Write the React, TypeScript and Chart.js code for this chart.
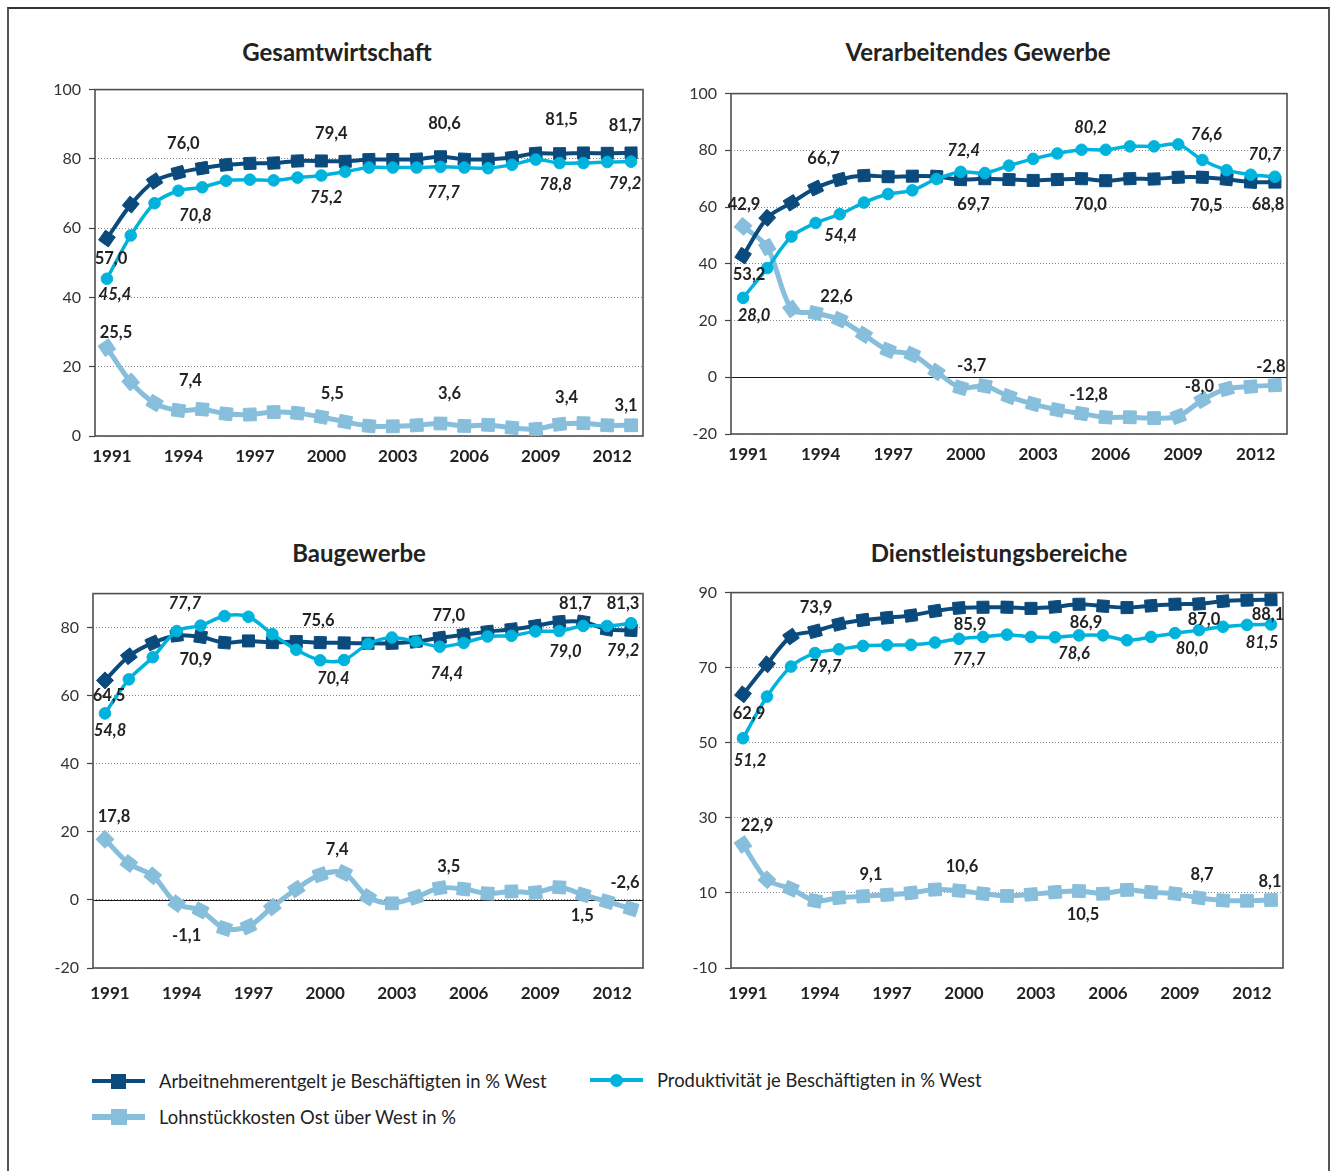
import { useEffect, useRef } from "react";
import { Chart, registerables } from "chart.js";

Chart.register(...registerables);

const FONT = "Lato, 'Noto Sans', sans-serif";
const NAVY = "#0b4a7c";
const CYAN = "#00b3dc";
const LIGHT = "#86bedb";
const TEXT = "#222222";

// Years on the category axis
const years = [
  "1991", "1992", "1993", "1994", "1995", "1996", "1997", "1998", "1999", "2000", "2001", "2002",
  "2003", "2004", "2005", "2006", "2007", "2008", "2009", "2010", "2011", "2012", "2013",
];

const seriesNames = [
  "Arbeitnehmerentgelt je Beschäftigten in % West",
  "Produktivität je Beschäftigten in % West",
  "Lohnstückkosten Ost über West in %",
];

// Gesamtwirtschaft
const gesamtEntgelt = [57.0, 66.8, 73.6, 76.0, 77.3, 78.3, 78.7, 78.8, 79.4, 79.4, 79.3, 79.8, 79.8, 79.9, 80.6, 79.9, 79.9, 80.4, 81.6, 81.5, 81.7, 81.6, 81.7];
const gesamtProd = [45.4, 57.9, 67.2, 70.8, 71.8, 73.7, 74.0, 73.8, 74.6, 75.2, 76.3, 77.5, 77.5, 77.5, 77.7, 77.5, 77.3, 78.3, 79.8, 78.8, 78.8, 79.1, 79.2];
const gesamtLohn = [25.5, 15.6, 9.5, 7.4, 7.7, 6.4, 6.2, 6.9, 6.6, 5.5, 4.1, 2.9, 2.8, 3.1, 3.6, 2.9, 3.2, 2.4, 2.0, 3.4, 3.7, 3.1, 3.1];

// Verarbeitendes Gewerbe
const verarbEntgelt = [42.9, 56.2, 61.5, 66.7, 69.7, 71.1, 70.7, 70.9, 70.8, 69.7, 70.0, 69.7, 69.4, 69.7, 70.0, 69.3, 70.0, 69.9, 70.5, 70.5, 69.8, 68.8, 68.8];
const verarbProd = [28.0, 38.5, 49.6, 54.4, 57.5, 61.6, 64.6, 65.9, 69.9, 72.4, 72.0, 74.6, 77.0, 78.9, 80.2, 80.2, 81.4, 81.4, 82.1, 76.6, 73.0, 71.4, 70.7];
const verarbLohn = [53.2, 45.9, 24.1, 22.6, 20.3, 15.0, 9.5, 8.0, 1.9, -3.7, -3.1, -6.8, -9.4, -11.5, -12.8, -14.1, -14.1, -14.4, -13.8, -8.0, -4.1, -3.3, -2.8];

// Baugewerbe
const bauEntgelt = [64.5, 71.6, 75.5, 77.7, 77.3, 75.6, 76.1, 75.6, 75.9, 75.6, 75.5, 75.4, 75.4, 75.9, 77.0, 77.9, 78.8, 79.5, 80.5, 81.7, 81.7, 79.5, 79.2];
const bauProd = [54.8, 64.8, 71.3, 79.0, 80.6, 83.4, 83.2, 78.1, 73.5, 70.4, 70.5, 75.2, 77.1, 75.9, 74.4, 75.5, 77.4, 77.6, 78.9, 79.0, 80.5, 80.5, 81.3];
const bauLohn = [17.8, 10.7, 7.1, -1.1, -3.1, -8.4, -7.8, -2.1, 3.2, 7.4, 7.9, 0.8, -1.0, 0.8, 3.5, 3.2, 1.9, 2.5, 2.2, 3.7, 1.5, -0.5, -2.6];

// Dienstleistungsbereiche
const dienstEntgelt = [62.9, 70.9, 78.3, 79.7, 81.6, 82.7, 83.3, 83.9, 85.1, 85.9, 86.1, 86.1, 85.8, 86.2, 86.9, 86.4, 86.0, 86.5, 86.9, 87.0, 87.7, 88.0, 88.1];
const dienstProd = [51.2, 62.3, 70.3, 73.9, 74.9, 75.8, 76.0, 76.1, 76.7, 77.7, 78.2, 78.8, 78.2, 78.1, 78.6, 78.6, 77.3, 78.2, 79.2, 80.0, 80.9, 81.4, 81.5];
const dienstLohn = [22.9, 13.5, 11.1, 7.9, 8.7, 9.1, 9.5, 10.0, 10.9, 10.6, 9.8, 9.2, 9.6, 10.2, 10.5, 9.8, 10.8, 10.2, 9.8, 8.7, 8.0, 7.9, 8.1];

// Value labels: [series (0 Entgelt, 1 Produktivität, 2 Lohnstückkosten), year index, dx, dy, italic, fixed text]
type LabelSpec = [number, number, number, number, boolean, string?];

const gesamtLabels: LabelSpec[] = [
  [0, 0, 4, 20, false], [1, 0, 8, 16, true], [2, 0, 9, -15, false],
  [0, 3, 5, -29, false], [1, 3, 17, 25, true], [2, 3, 12, -30, false],
  [0, 9, 10, -27, false], [1, 9, 5, 22, true], [2, 9, 11, -23, false],
  [0, 14, 4, -33, false], [1, 14, 3, 26, true], [2, 14, 9, -30, false],
  [0, 19, 2, -34, false], [1, 19, -4, 22, true], [2, 19, 7, -27, false],
  [0, 22, -6, -27, false], [1, 22, -6, 22, true], [2, 22, -5, -20, false],
];

const verarbLabels: LabelSpec[] = [
  [0, 0, 1, -51, false], [2, 0, 6, 48, false], [1, 0, 11, 18, true],
  [0, 3, 8, -29, false], [1, 3, 25, 13, true], [2, 3, 21, -16, false],
  [1, 9, 3, -21, true], [0, 9, 13, 25, false], [2, 9, 11, -22, false],
  [1, 14, 9, -22, true], [0, 14, 9, 26, false], [2, 14, 7, -19, false],
  [1, 19, 4, -25, true], [0, 19, 4, 28, false], [2, 19, -3, -13, false],
  [1, 22, -10, -22, true], [0, 22, -7, 23, false], [2, 22, -4, -19, false],
];

const bauLabels: LabelSpec[] = [
  [0, 0, 4, 15, false], [1, 0, 5, 17, true], [2, 0, 9, -23, false],
  [0, 3, 8, -32, true], [0, 3, 19, 24, false, "70,9"], [2, 3, 10, 32, false],
  [0, 9, -2, -22, false], [1, 9, 13, 18, true], [2, 9, 17, -25, false],
  [0, 14, 9, -22, false], [1, 14, 7, 27, true], [2, 14, 9, -21, false],
  [0, 19, 16, -18, false], [1, 19, 6, 21, true], [2, 20, -1, 21, false],
  [1, 22, -8, -20, false], [0, 22, -8, 20, true], [2, 22, -6, -26, false],
];

const dienstLabels: LabelSpec[] = [
  [0, 0, 6, 19, false], [1, 0, 7, 22, true], [2, 0, 14, -19, false],
  [1, 3, 1, -45, false], [0, 3, 10, 35, true], [2, 5, 8, -22, false],
  [0, 9, 11, 17, false], [1, 9, 10, 21, true], [2, 9, 3, -24, false],
  [0, 14, 7, 18, false], [1, 14, -5, 18, true], [2, 14, 4, 24, false],
  [0, 19, 5, 16, false], [1, 19, -7, 19, true], [2, 19, 3, -23, false],
  [0, 22, -3, 15, false], [1, 22, -9, 18, true], [2, 22, -1, -18, false],
];

type PanelDef = {
  title: string;
  entgelt: number[];
  prod: number[];
  lohn: number[];
  labels: LabelSpec[];
  min: number;
  max: number;
  hideTicks: number[];
  zeroLine: boolean;
  box: { l: number; t: number; r: number; b: number };
  titleX: number;
  titleY: number;
  xPad: number;
};

const panels: PanelDef[] = [
  { title: "Gesamtwirtschaft", entgelt: gesamtEntgelt, prod: gesamtProd, lohn: gesamtLohn, labels: gesamtLabels,
    min: 0, max: 100, hideTicks: [], zeroLine: false, box: { l: 95, t: 87, r: 643, b: 436 }, titleX: 337, titleY: 52, xPad: 10 },
  { title: "Verarbeitendes Gewerbe", entgelt: verarbEntgelt, prod: verarbProd, lohn: verarbLohn, labels: verarbLabels,
    min: -20, max: 100, hideTicks: [], zeroLine: true, box: { l: 731, t: 91, r: 1287, b: 434 }, titleX: 978, titleY: 52, xPad: 10 },
  { title: "Baugewerbe", entgelt: bauEntgelt, prod: bauProd, lohn: bauLohn, labels: bauLabels,
    min: -20, max: 90, hideTicks: [90], zeroLine: true, box: { l: 93, t: 591, r: 643, b: 968 }, titleX: 359, titleY: 553, xPad: 15 },
  { title: "Dienstleistungsbereiche", entgelt: dienstEntgelt, prod: dienstProd, lohn: dienstLohn, labels: dienstLabels,
    min: -10, max: 90, hideTicks: [], zeroLine: false, box: { l: 731, t: 590, r: 1283, b: 968 }, titleX: 999, titleY: 553, xPad: 15 },
];

const fmt = (v: number) => v.toFixed(1).replace(".", ",");

// Markers turn with the line, like the squares on the printed chart
const alongLine = (ctx: any) => {
  const chart = ctx.chart;
  const xs = chart.scales?.x;
  const ys = chart.scales?.y;
  const i = ctx.dataIndex;
  if (!xs || !ys || i === undefined || !xs.width) return 0;
  const data = ctx.dataset.data as number[];
  const i0 = Math.max(0, i - 1);
  const i1 = Math.min(data.length - 1, i + 1);
  const dx = xs.getPixelForValue(i1) - xs.getPixelForValue(i0);
  const dy = ys.getPixelForValue(data[i1]) - ys.getPixelForValue(data[i0]);
  return (Math.atan2(dy, dx) * 180) / Math.PI;
};

const makeFramePlugin = (zeroLine: boolean) => ({
  id: "frame",
  beforeDatasetsDraw(chart: any) {
    const { ctx, chartArea: a, scales } = chart;
    const y = scales.y;
    ctx.save();
    if (zeroLine) {
      const yz = Math.round(y.getPixelForValue(0)) + 0.5;
      ctx.strokeStyle = "#1a1a1a";
      ctx.lineWidth = 1.2;
      ctx.beginPath();
      ctx.moveTo(a.left, yz);
      ctx.lineTo(a.right, yz);
      ctx.stroke();
    }
    ctx.strokeStyle = "#4f4f4f";
    ctx.lineWidth = 1.6;
    ctx.strokeRect(a.left, a.top, a.right - a.left, a.bottom - a.top);
    ctx.restore();
  },
});

const makeLabelPlugin = (specs: LabelSpec[]) => ({
  id: "valueLabels",
  afterDatasetsDraw(chart: any) {
    const { ctx } = chart;
    ctx.save();
    ctx.fillStyle = TEXT;
    ctx.textAlign = "center";
    ctx.textBaseline = "middle";
    for (const [s, i, dx, dy, italic, fixed] of specs) {
      const pt = chart.getDatasetMeta(s).data[i];
      if (!pt) continue;
      const v = chart.data.datasets[s].data[i] as number;
      ctx.font = `${italic ? "italic " : ""}bold 16.5px ${FONT}`;
      ctx.fillText(fixed ?? fmt(v), pt.x + dx, pt.y + dy);
    }
    ctx.restore();
  },
});

const PAD_L = 70;
const PAD_T = 15;
const PAD_R = 15;
const PAD_B = 60;

function Panel({ def }: { def: PanelDef }) {
  const ref = useRef<HTMLCanvasElement | null>(null);
  const { l, t, r, b } = def.box;
  const w = r - l + PAD_L + PAD_R;
  const h = b - t + PAD_T + PAD_B;

  useEffect(() => {
    if (!ref.current) return;
    const line = (label: string, data: number[], color: string, style: string, radius: number, width: number, order: number) => ({
      label,
      data,
      borderColor: color,
      backgroundColor: color,
      borderWidth: width,
      pointStyle: style,
      pointRadius: radius,
      pointHoverRadius: radius,
      pointBackgroundColor: color,
      pointBorderColor: color,
      pointBorderWidth: 1,
      pointRotation: alongLine,
      tension: 0.3,
      order,
    });
    const chart = new Chart(ref.current, {
      type: "line",
      data: {
        labels: years,
        datasets: [
          line(seriesNames[0], def.entgelt, NAVY, "rect", 8.5, 4, 1),
          line(seriesNames[1], def.prod, CYAN, "circle", 5.8, 3.5, 0),
          line(seriesNames[2], def.lohn, LIGHT, "rect", 9, 5, 2),
        ],
      },
      options: {
        animation: false,
        responsive: false,
        devicePixelRatio: 1,
        events: [],
        layout: { padding: { left: 0, top: PAD_T, right: PAD_R, bottom: 0 } },
        plugins: { legend: { display: false }, tooltip: { enabled: false }, title: { display: false } },
        scales: {
          x: {
            type: "category",
            offset: true,
            grid: { display: false, drawTicks: false },
            border: { display: false },
            ticks: {
              autoSkip: false,
              maxRotation: 0,
              minRotation: 0,
              padding: def.xPad,
              labelOffset: 5,
              color: TEXT,
              font: { family: FONT, size: 17, weight: "bold" },
              callback: (_v: any, i: number) => (i % 3 === 0 ? years[i] : ""),
            },
            afterFit: (s: any) => {
              s.height = PAD_B;
            },
          },
          y: {
            min: def.min,
            max: def.max,
            grid: {
              color: "#8c8c8c",
              lineWidth: 1,
              drawTicks: true,
              tickLength: 6,
              tickColor: "#444444",
              tickWidth: 1.2,
              tickBorderDash: [],
            },
            border: { display: false, dash: [1, 2] },
            ticks: {
              stepSize: 20,
              padding: 8,
              color: "#333333",
              font: { family: FONT, size: 16 },
              callback: (v: any) => String(v),
            },
            afterBuildTicks: (s: any) => {
              s.ticks = s.ticks.filter((tk: any) => !def.hideTicks.includes(tk.value));
            },
            afterFit: (s: any) => {
              s.width = PAD_L;
            },
          },
        },
      },
      plugins: [makeFramePlugin(def.zeroLine), makeLabelPlugin(def.labels)],
    } as any);
    return () => chart.destroy();
  }, [def]);

  return (
    <>
      <div
        style={{
          position: "absolute",
          left: def.titleX - 250,
          top: def.titleY - 15,
          width: 500,
          height: 30,
          lineHeight: "30px",
          textAlign: "center",
          fontFamily: FONT,
          fontWeight: 700,
          fontSize: 24,
          color: TEXT,
        }}
      >
        {def.title}
      </div>
      <div style={{ position: "absolute", left: l - PAD_L, top: t - PAD_T, width: w, height: h }}>
        <canvas ref={ref} width={w} height={h} style={{ width: w, height: h, display: "block" }} />
      </div>
    </>
  );
}

function LegendItem({ x, y, color, marker, text }: { x: number; y: number; color: string; marker: "square" | "circle" | "bigsquare"; text: string }) {
  const lineH = marker === "bigsquare" ? 6 : 4;
  const size = marker === "circle" ? 13 : marker === "bigsquare" ? 16 : 15;
  return (
    <>
      <div style={{ position: "absolute", left: x, top: y - lineH / 2, width: 53, height: lineH, background: color }} />
      <div
        style={{
          position: "absolute",
          left: x + 26.5 - size / 2,
          top: y - size / 2,
          width: size,
          height: size,
          background: color,
          borderRadius: marker === "circle" ? "50%" : 0,
        }}
      />
      <div
        style={{
          position: "absolute",
          left: x + 67,
          top: y - 13,
          height: 26,
          lineHeight: "26px",
          whiteSpace: "nowrap",
          fontFamily: FONT,
          fontSize: 18.4,
          color: TEXT,
        }}
      >
        {text}
      </div>
    </>
  );
}

export default function App() {
  return (
    <div style={{ position: "fixed", left: 0, top: 0, width: 1335, height: 1171, overflow: "hidden", background: "#fff" }}>
      <div
        style={{
          position: "absolute",
          left: 7,
          top: 7,
          width: 1319,
          height: 1200,
          borderTop: "2px solid #333",
          borderLeft: "2px solid #555",
          borderRight: "2px solid #555",
        }}
      />
      {panels.map((p) => (
        <Panel key={p.title} def={p} />
      ))}
      <LegendItem x={92} y={1081} color={NAVY} marker="square" text={seriesNames[0]} />
      <LegendItem x={590} y={1080} color={CYAN} marker="circle" text={seriesNames[1]} />
      <LegendItem x={92} y={1117} color={LIGHT} marker="bigsquare" text={seriesNames[2]} />
    </div>
  );
}
